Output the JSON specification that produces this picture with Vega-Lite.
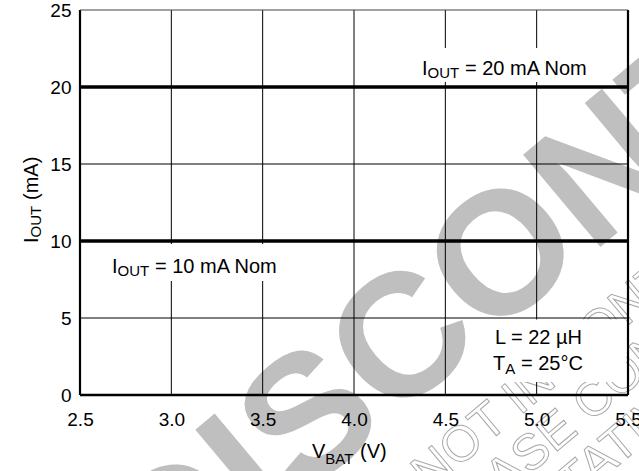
{
  "$schema": "https://vega.github.io/schema/vega-lite/v6.json",
  "width": 548,
  "height": 385,
  "autosize": {"type": "none"},
  "padding": {"left": 80, "top": 10, "right": 11, "bottom": 76},
  "background": "white",
  "datasets": {
    "xgrid": [{"v": 3.0}, {"v": 3.5}, {"v": 4.0}, {"v": 4.5}, {"v": 5.0}],
    "ygrid": [{"v": 5}, {"v": 10}, {"v": 15}, {"v": 20}],
    "xframe": [{"v": 2.5}, {"v": 5.5}],
    "curves": [
      {"series": "20 mA Nom", "vbat": 2.5, "iout": 20},
      {"series": "20 mA Nom", "vbat": 3.0, "iout": 20},
      {"series": "20 mA Nom", "vbat": 3.5, "iout": 20},
      {"series": "20 mA Nom", "vbat": 4.0, "iout": 20},
      {"series": "20 mA Nom", "vbat": 4.5, "iout": 20},
      {"series": "20 mA Nom", "vbat": 5.0, "iout": 20},
      {"series": "20 mA Nom", "vbat": 5.5, "iout": 20},
      {"series": "10 mA Nom", "vbat": 2.5, "iout": 10},
      {"series": "10 mA Nom", "vbat": 3.0, "iout": 10},
      {"series": "10 mA Nom", "vbat": 3.5, "iout": 10},
      {"series": "10 mA Nom", "vbat": 4.0, "iout": 10},
      {"series": "10 mA Nom", "vbat": 4.5, "iout": 10},
      {"series": "10 mA Nom", "vbat": 5.0, "iout": 10},
      {"series": "10 mA Nom", "vbat": 5.5, "iout": 10}
    ]
  },
  "layer": [
    {
      "data": {"values": [{}]},
      "mark": {"type": "text", "text": "DISCONTINUED", "font": "Liberation Sans", "fontWeight": "bold", "fontSize": 175, "angle": 320, "align": "center", "baseline": "middle", "color": "#bfbfbf"},
      "encoding": {
        "x": {"datum": 5.582, "type": "quantitative", "title": null, "scale": {"domain": [2.5, 5.5], "nice": false, "zero": false},
              "axis": {"values": [2.5, 3.0, 3.5, 4.0, 4.5, 5.0, 5.5], "format": ".1f", "title": null, "labelPadding": 15, "labelFontSize": 19, "labelFont": "Liberation Sans", "labelColor": "black", "zindex": 1}},
        "y": {"datum": 16.43, "type": "quantitative", "title": null, "scale": {"domain": [0, 25], "nice": false, "zero": false},
              "axis": {"values": [0, 5, 10, 15, 20, 25], "title": null, "labelPadding": 9, "labelFontSize": 19, "labelFont": "Liberation Sans", "labelColor": "black", "zindex": 1}}
      }
    },
    {
      "data": {"values": [{}]},
      "mark": {"type": "text", "text": "PRODUCT IS NOT IN CONTINUOUS", "font": "Liberation Sans", "fontSize": 50, "angle": 320, "align": "center", "baseline": "middle", "fill": "white", "fillOpacity": 0, "stroke": "#a8a8a8", "strokeWidth": 1},
      "encoding": {
        "x": {"datum": 4.772, "type": "quantitative", "title": null},
        "y": {"datum": -1.45, "type": "quantitative", "title": null}
      }
    },
    {
      "data": {"values": [{}]},
      "mark": {"type": "text", "text": "PLEASE CONTACT", "font": "Liberation Sans", "fontSize": 50, "angle": 320, "align": "center", "baseline": "middle", "fill": "white", "fillOpacity": 0, "stroke": "#a8a8a8", "strokeWidth": 1},
      "encoding": {
        "x": {"datum": 5.303, "type": "quantitative", "title": null},
        "y": {"datum": -0.48, "type": "quantitative", "title": null}
      }
    },
    {
      "data": {"values": [{}]},
      "mark": {"type": "text", "text": "REPRESENTATIVE", "font": "Liberation Sans", "fontSize": 50, "angle": 320, "align": "center", "baseline": "middle", "fill": "white", "fillOpacity": 0, "stroke": "#a8a8a8", "strokeWidth": 1},
      "encoding": {
        "x": {"datum": 4.931, "type": "quantitative", "title": null},
        "y": {"datum": -8.46, "type": "quantitative", "title": null}
      }
    },
    {
      "data": {"name": "xgrid"},
      "mark": {"type": "rule", "color": "black", "strokeWidth": 1},
      "encoding": {
        "x": {"field": "v", "type": "quantitative", "title": null}
      }
    },
    {
      "data": {"name": "ygrid"},
      "mark": {"type": "rule", "color": "black", "strokeWidth": 1},
      "encoding": {
        "y": {"field": "v", "type": "quantitative", "title": null}
      }
    },
    {
      "data": {"name": "xframe"},
      "mark": {"type": "rule", "color": "black", "strokeWidth": 2.2},
      "encoding": {
        "x": {"field": "v", "type": "quantitative", "title": null}
      }
    },
    {
      "data": {"values": [{}]},
      "mark": {"type": "rule", "color": "black", "strokeWidth": 2.5},
      "encoding": {
        "y": {"datum": 0, "type": "quantitative", "title": null}
      }
    },
    {
      "data": {"values": [{}]},
      "mark": {"type": "rule", "color": "#444444", "strokeWidth": 1.2},
      "encoding": {
        "y": {"datum": 25, "type": "quantitative", "title": null}
      }
    },
    {
      "data": {"name": "curves"},
      "mark": {"type": "line", "color": "black", "strokeWidth": 3.5},
      "encoding": {
        "x": {"field": "vbat", "type": "quantitative", "title": null},
        "y": {"field": "iout", "type": "quantitative", "title": null},
        "detail": {"field": "series"}
      }
    },
    {
      "data": {"values": [{}]},
      "mark": {"type": "rect", "color": "white"},
      "encoding": {
        "x": {"datum": 4.307, "type": "quantitative", "title": null},
        "x2": {"datum": 5.374},
        "y": {"datum": 20.32, "type": "quantitative", "title": null},
        "y2": {"datum": 22.53}
      }
    },
    {
      "data": {"values": [{}]},
      "mark": {"type": "rect", "color": "white"},
      "encoding": {
        "x": {"datum": 2.637, "type": "quantitative", "title": null},
        "x2": {"datum": 3.677},
        "y": {"datum": 7.4, "type": "quantitative", "title": null},
        "y2": {"datum": 9.81}
      }
    },
    {
      "data": {"values": [{}]},
      "mark": {"type": "rect", "color": "white"},
      "encoding": {
        "x": {"datum": 4.7, "type": "quantitative", "title": null},
        "x2": {"datum": 5.49},
        "y": {"datum": 0.85, "type": "quantitative", "title": null},
        "y2": {"datum": 4.9}
      }
    },
    {
      "data": {"values": [{}]},
      "mark": {"type": "text", "text": "I", "font": "Liberation Sans", "fontSize": 20, "align": "left", "baseline": "alphabetic", "color": "black"},
      "encoding": {"x": {"datum": 4.372, "type": "quantitative", "title": null}, "y": {"datum": 20.78, "type": "quantitative", "title": null}}
    },
    {
      "data": {"values": [{}]},
      "mark": {"type": "text", "text": "OUT", "font": "Liberation Sans", "fontSize": 15, "align": "left", "baseline": "alphabetic", "dx": 5.6, "dy": 3, "color": "black"},
      "encoding": {"x": {"datum": 4.372, "type": "quantitative", "title": null}, "y": {"datum": 20.78, "type": "quantitative", "title": null}}
    },
    {
      "data": {"values": [{}]},
      "mark": {"type": "text", "text": "= 20 mA Nom", "font": "Liberation Sans", "fontSize": 20, "align": "left", "baseline": "alphabetic", "dx": 43, "color": "black"},
      "encoding": {"x": {"datum": 4.372, "type": "quantitative", "title": null}, "y": {"datum": 20.78, "type": "quantitative", "title": null}}
    },
    {
      "data": {"values": [{}]},
      "mark": {"type": "text", "text": "I", "font": "Liberation Sans", "fontSize": 20, "align": "left", "baseline": "alphabetic", "color": "black"},
      "encoding": {"x": {"datum": 2.675, "type": "quantitative", "title": null}, "y": {"datum": 7.92, "type": "quantitative", "title": null}}
    },
    {
      "data": {"values": [{}]},
      "mark": {"type": "text", "text": "OUT", "font": "Liberation Sans", "fontSize": 15, "align": "left", "baseline": "alphabetic", "dx": 5.6, "dy": 3, "color": "black"},
      "encoding": {"x": {"datum": 2.675, "type": "quantitative", "title": null}, "y": {"datum": 7.92, "type": "quantitative", "title": null}}
    },
    {
      "data": {"values": [{}]},
      "mark": {"type": "text", "text": "= 10 mA Nom", "font": "Liberation Sans", "fontSize": 20, "align": "left", "baseline": "alphabetic", "dx": 43, "color": "black"},
      "encoding": {"x": {"datum": 2.675, "type": "quantitative", "title": null}, "y": {"datum": 7.92, "type": "quantitative", "title": null}}
    },
    {
      "data": {"values": [{}]},
      "mark": {"type": "text", "text": "L = 22 µH", "font": "Liberation Sans", "fontSize": 20, "align": "left", "baseline": "alphabetic", "color": "black"},
      "encoding": {"x": {"datum": 4.772, "type": "quantitative", "title": null}, "y": {"datum": 3.31, "type": "quantitative", "title": null}}
    },
    {
      "data": {"values": [{}]},
      "mark": {"type": "text", "text": "T", "font": "Liberation Sans", "fontSize": 20, "align": "left", "baseline": "alphabetic", "color": "black"},
      "encoding": {"x": {"datum": 4.761, "type": "quantitative", "title": null}, "y": {"datum": 1.62, "type": "quantitative", "title": null}}
    },
    {
      "data": {"values": [{}]},
      "mark": {"type": "text", "text": "A", "font": "Liberation Sans", "fontSize": 15, "align": "left", "baseline": "alphabetic", "dx": 12.2, "dy": 4, "color": "black"},
      "encoding": {"x": {"datum": 4.761, "type": "quantitative", "title": null}, "y": {"datum": 1.62, "type": "quantitative", "title": null}}
    },
    {
      "data": {"values": [{}]},
      "mark": {"type": "text", "text": "= 25°C", "font": "Liberation Sans", "fontSize": 20, "align": "left", "baseline": "alphabetic", "dx": 28, "color": "black"},
      "encoding": {"x": {"datum": 4.761, "type": "quantitative", "title": null}, "y": {"datum": 1.62, "type": "quantitative", "title": null}}
    },
    {
      "data": {"values": [{}]},
      "mark": {"type": "text", "text": "V", "font": "Liberation Sans", "fontSize": 20, "align": "left", "baseline": "alphabetic", "color": "black"},
      "encoding": {"x": {"datum": 3.77, "type": "quantitative", "title": null}, "y": {"datum": -4.09, "type": "quantitative", "title": null}}
    },
    {
      "data": {"values": [{}]},
      "mark": {"type": "text", "text": "BAT", "font": "Liberation Sans", "fontSize": 15, "align": "left", "baseline": "alphabetic", "dx": 13.3, "dy": 6, "color": "black"},
      "encoding": {"x": {"datum": 3.77, "type": "quantitative", "title": null}, "y": {"datum": -4.09, "type": "quantitative", "title": null}}
    },
    {
      "data": {"values": [{}]},
      "mark": {"type": "text", "text": "(V)", "font": "Liberation Sans", "fontSize": 20, "align": "left", "baseline": "alphabetic", "dx": 48, "color": "black"},
      "encoding": {"x": {"datum": 3.77, "type": "quantitative", "title": null}, "y": {"datum": -4.09, "type": "quantitative", "title": null}}
    },
    {
      "data": {"values": [{}]},
      "mark": {"type": "text", "text": "I", "font": "Liberation Sans", "fontSize": 20, "angle": 270, "align": "left", "baseline": "alphabetic", "color": "black"},
      "encoding": {"x": {"datum": 2.27, "type": "quantitative", "title": null}, "y": {"datum": 9.87, "type": "quantitative", "title": null}}
    },
    {
      "data": {"values": [{}]},
      "mark": {"type": "text", "text": "OUT", "font": "Liberation Sans", "fontSize": 15, "angle": 270, "align": "left", "baseline": "alphabetic", "dx": 5.6, "dy": 3, "color": "black"},
      "encoding": {"x": {"datum": 2.27, "type": "quantitative", "title": null}, "y": {"datum": 9.87, "type": "quantitative", "title": null}}
    },
    {
      "data": {"values": [{}]},
      "mark": {"type": "text", "text": "(mA)", "font": "Liberation Sans", "fontSize": 20, "angle": 270, "align": "left", "baseline": "alphabetic", "dx": 43, "color": "black"},
      "encoding": {"x": {"datum": 2.27, "type": "quantitative", "title": null}, "y": {"datum": 9.87, "type": "quantitative", "title": null}}
    }
  ],
  "config": {
    "view": {"stroke": null},
    "axis": {"grid": false, "domain": false, "ticks": false, "labelFont": "Liberation Sans", "labelFontSize": 19, "labelColor": "black", "labelFlush": false, "labelOverlap": false, "labelBound": false, "zindex": 1}
  }
}
